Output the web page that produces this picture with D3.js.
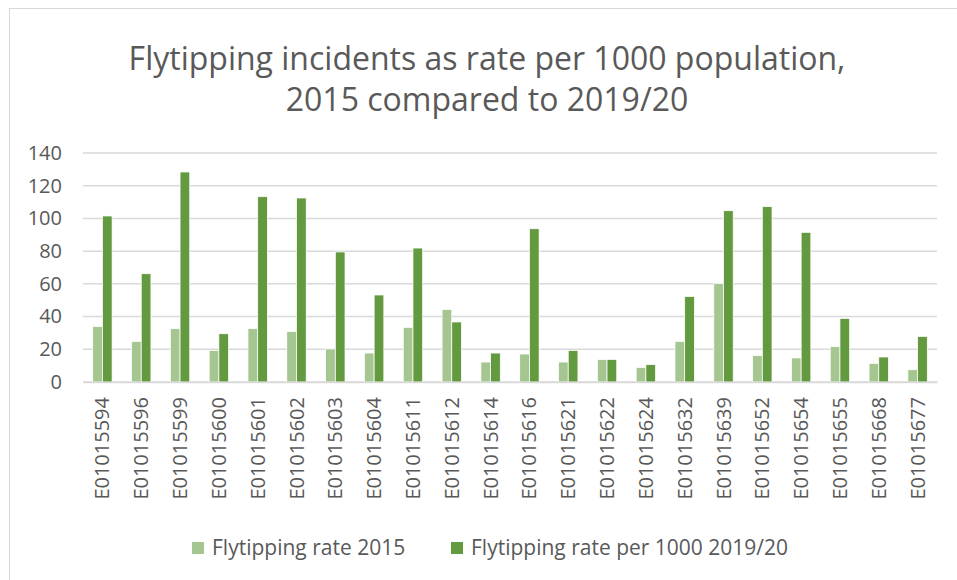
<!DOCTYPE html>
<html>
<head>
<meta charset="utf-8">
<script src="https://cdn.jsdelivr.net/npm/d3@7"></script>
<style>
  body { margin: 0; background: #fff; }
  svg { display: block; font-family: "Open Sans", "Noto Sans", sans-serif; }
</style>
</head>
<body>
<div id="chart"></div>
<script>
// Chart data.
const areaCodes = [
  "E01015594", "E01015596", "E01015599", "E01015600", "E01015601", "E01015602",
  "E01015603", "E01015604", "E01015611", "E01015612", "E01015614", "E01015616",
  "E01015621", "E01015622", "E01015624", "E01015632", "E01015639", "E01015652",
  "E01015654", "E01015655", "E01015668", "E01015677"
];
const rate2015 = [
  34.0, 24.8, 32.6, 19.3, 32.6, 30.9, 20.2, 17.7, 33.4, 44.4, 12.2,
  17.1, 12.2, 13.8, 8.9, 24.8, 60.1, 16.1, 14.7, 21.6, 11.4, 7.5
];
const rate2019 = [
  101.5, 66.2, 128.4, 29.5, 113.3, 112.5, 79.5, 53.2, 81.9, 36.7, 17.7,
  93.7, 19.3, 13.8, 10.6, 52.3, 104.7, 107.2, 91.5, 38.9, 15.3, 27.9
];
const seriesNames = ["Flytipping rate 2015", "Flytipping rate per 1000 2019/20"];
const yTicks = [0, 20, 40, 60, 80, 100, 120, 140];

// Layout.
const width = 957;
const height = 580;
const plot = { left: 83, right: 937, top: 153, bottom: 382 };
const colors = ["#a5c690", "#649a3f"];
const textColor = "#595959";
const gridColor = "#d9d9d9";

const rows = areaCodes.map((code, i) => ({ code, values: [rate2015[i], rate2019[i]] }));

const svg = d3.select("#chart")
  .append("svg")
  .attr("width", width)
  .attr("height", height);

// Chart area border.
svg.append("rect")
  .attr("x", 9.5)
  .attr("y", 8.5)
  .attr("width", width + 10)
  .attr("height", height + 10)
  .attr("fill", "none")
  .attr("stroke", "#d9d9d9");

// Scales.
const xScale = d3.scaleBand()
  .domain(areaCodes)
  .range([plot.left, plot.right])
  .paddingInner(0.5)
  .paddingOuter(0.25);

const xInner = d3.scaleBand()
  .domain([0, 1])
  .range([0, xScale.bandwidth()]);

const yScale = d3.scaleLinear()
  .domain([0, 140])
  .range([plot.bottom, plot.top]);

// Gridlines.
svg.append("g")
  .selectAll("line")
  .data(yTicks)
  .join("line")
  .attr("x1", plot.left)
  .attr("x2", plot.right)
  .attr("y1", (d) => yScale(d))
  .attr("y2", (d) => yScale(d))
  .attr("stroke", gridColor)
  .attr("stroke-width", 1.5);

// Y axis labels.
const yAxis = svg.append("g")
  .attr("transform", `translate(${plot.left - 21},0)`)
  .call(d3.axisLeft(yScale).tickValues(yTicks).tickSize(0).tickPadding(0));
yAxis.select(".domain").remove();
yAxis.selectAll("text")
  .attr("fill", textColor)
  .style("font-size", "20px")
  .style("font-family", "\"Open Sans\", sans-serif");

// Bars.
svg.append("g")
  .selectAll("g")
  .data(rows)
  .join("g")
  .attr("transform", (d) => `translate(${xScale(d.code)},0)`)
  .selectAll("rect")
  .data((d) => d.values.map((v, k) => ({ k, v })))
  .join("rect")
  .attr("x", (d) => xInner(d.k))
  .attr("y", (d) => yScale(d.v))
  .attr("width", xInner.bandwidth())
  .attr("height", (d) => yScale(0) - yScale(d.v))
  .attr("fill", (d) => colors[d.k])
  .attr("stroke", "#fff")
  .attr("stroke-width", 0.75);

// X axis.
const xAxis = svg.append("g")
  .attr("transform", `translate(0,${plot.bottom})`)
  .call(d3.axisBottom(xScale).tickSize(0).tickPadding(0).tickSizeOuter(0));
xAxis.select(".domain")
  .attr("stroke", gridColor)
  .attr("stroke-width", 1.5);
xAxis.selectAll("text")
  .attr("fill", textColor)
  .style("font-size", "20px")
  .style("font-family", "\"Open Sans\", sans-serif")
  .attr("text-anchor", "end")
  .attr("dy", null)
  .attr("transform", "translate(7,15) rotate(-90)");

// Title.
svg.append("g")
  .selectAll("text")
  .data(["Flytipping incidents as rate per 1000 population,", "2015 compared to 2019/20"])
  .join("text")
  .attr("x", 487)
  .attr("y", (d, i) => 70 + i * 41)
  .attr("text-anchor", "middle")
  .attr("fill", textColor)
  .style("font-size", "32px")
  .text((d) => d);

// Legend.
const legendX = [192, 451];
const legend = svg.append("g")
  .selectAll("g")
  .data(seriesNames)
  .join("g")
  .attr("transform", (d, i) => `translate(${legendX[i]},548)`);
legend.append("rect")
  .attr("x", 0)
  .attr("y", -6)
  .attr("width", 12)
  .attr("height", 12)
  .attr("fill", (d, i) => colors[i]);
legend.append("text")
  .attr("x", 20)
  .attr("y", 7)
  .attr("fill", textColor)
  .style("font-size", "21px")
  .text((d) => d);
</script>
</body>
</html>
